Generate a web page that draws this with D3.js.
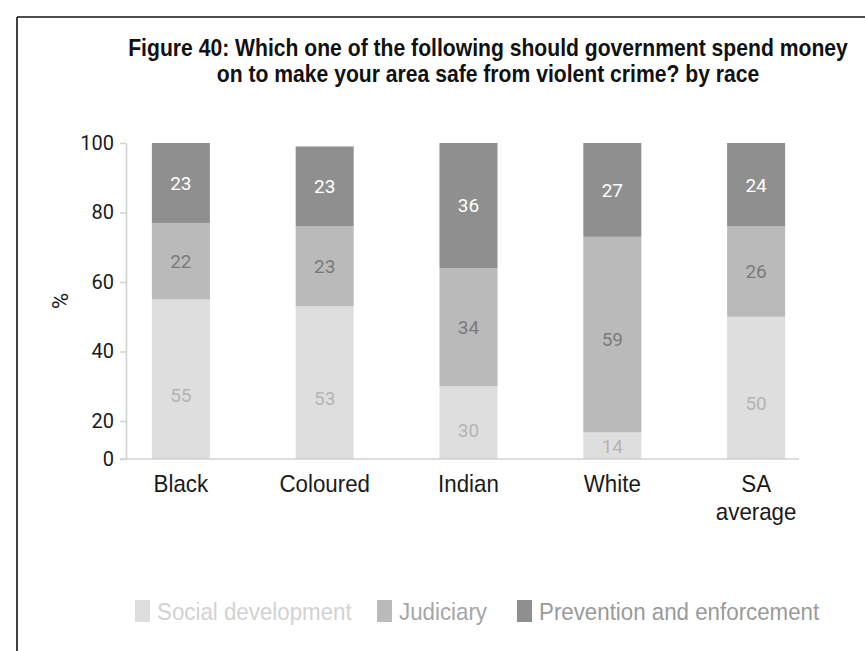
<!DOCTYPE html>
<html>
<head>
<meta charset="utf-8">
<script src="https://cdn.jsdelivr.net/npm/d3@7"></script>
<style>
  html, body { margin: 0; padding: 0; background: #fff; }
  svg { display: block; }
</style>
</head>
<body>
<svg id="chart" width="865" height="651"></svg>
<script>
// Spending priorities for violent-crime safety, by population group (%)
const categories = ["Black", "Coloured", "Indian", "White", "SA average"];
const seriesNames = ["Social development", "Judiciary", "Prevention and enforcement"];
const socialDevelopment = [55, 53, 30, 14, 50];
const judiciary = [22, 23, 34, 59, 26];
const preventionEnforcement = [23, 23, 36, 27, 24];
const yTicks = [0, 20, 40, 60, 80, 100];
const titleLines = [
  "Figure 40: Which one of the following should government spend money",
  "on to make your area safe from violent crime? by race"
];

const fills = ["#dedede", "#bababa", "#8f8f8f"];
const labelColors = ["#b4b4b4", "#7a7a7a", "#ffffff"];
const legendTextColors = ["#d2d2d2", "#a6a6a6", "#9a9a9a"];

const narrow = "'Liberation Sans', Arial, sans-serif";
const plain = "Roboto, 'Open Sans', 'DejaVu Sans', sans-serif";
const squeeze = 0.93; // horizontal compression giving a condensed face

const svg = d3.select("#chart");

// frame (top and left rules)
svg.append("line").attr("x1", 17).attr("y1", 17).attr("x2", 865).attr("y2", 17)
  .attr("stroke", "#111").attr("stroke-width", 1.6);
svg.append("line").attr("x1", 17).attr("y1", 17).attr("x2", 17).attr("y2", 651)
  .attr("stroke", "#111").attr("stroke-width", 1.6);

// title, set in a condensed bold: both lines share one compression factor
const titleWidth = 720;
const titleGroups = svg.append("g").selectAll("g").data(titleLines).join("g");
const titleTexts = titleGroups.append("text")
  .attr("dy", "0.36em")
  .attr("text-anchor", "middle")
  .attr("font-family", narrow).attr("font-weight", "bold").attr("font-size", 23)
  .attr("fill", "#111")
  .text(d => d);
const titleScale = titleWidth / titleTexts.nodes()[0].getComputedTextLength();
titleGroups.attr("transform", (d, i) => `translate(488,${48 + i * 26}) scale(${titleScale},1)`);

const rows = categories.map((c, i) => ({
  category: c,
  "Social development": socialDevelopment[i],
  "Judiciary": judiciary[i],
  "Prevention and enforcement": preventionEnforcement[i]
}));
const stacked = d3.stack().keys(seriesNames)(rows);

const x = d3.scaleBand().domain(categories).range([109, 828])
  .paddingInner(0.5965).paddingOuter(0.298);
// the lowest interval of the value axis is drawn shorter than the others
const y = d3.scaleLinear().domain([0, 20, 100]).range([459, 421, 143]);

// bars
const layers = svg.append("g").selectAll("g").data(stacked).join("g")
  .attr("fill", (d, i) => fills[i]);
layers.selectAll("rect").data(d => d).join("rect")
  .attr("x", d => x(d.data.category))
  .attr("width", x.bandwidth())
  .attr("y", d => y(d[1]))
  .attr("height", d => y(d[0]) - y(d[1]));

// value labels, centred on each segment's value range
const labelLayers = svg.append("g").selectAll("g").data(stacked).join("g")
  .attr("fill", (d, i) => labelColors[i]);
labelLayers.selectAll("text").data(d => d).join("text")
  .attr("x", d => x(d.data.category) + x.bandwidth() / 2)
  .attr("y", d => y((d[0] + d[1]) / 2))
  .attr("dy", "0.36em")
  .attr("text-anchor", "middle")
  .attr("font-family", plain).attr("font-size", 19)
  .text(d => d[1] - d[0]);

// y axis
const yAxis = svg.append("g").attr("transform", "translate(126,0)")
  .call(d3.axisLeft(y).tickValues(yTicks).tickSize(6).tickPadding(6).tickSizeOuter(0));
yAxis.select(".domain").attr("stroke", "#d0d0d0").attr("stroke-width", 1.5);
yAxis.selectAll(".tick line").attr("stroke", "#d0d0d0").attr("stroke-width", 1.5);
yAxis.selectAll(".tick text").attr("font-family", plain).attr("font-size", 20).attr("fill", "#1a1a1a");

svg.append("text")
  .attr("transform", "translate(60,301) rotate(-90)")
  .attr("dy", "0.36em")
  .attr("text-anchor", "middle")
  .attr("font-family", plain).attr("font-size", 22).attr("fill", "#1a1a1a")
  .text("%");

// x axis baseline and category labels
svg.append("line").attr("x1", 120).attr("x2", 799).attr("y1", y(0)).attr("y2", y(0))
  .attr("stroke", "#d0d0d0").attr("stroke-width", 1.5);
const xLabelGroups = svg.append("g").selectAll("g").data(categories).join("g")
  .attr("transform", d => `translate(${x(d) + x.bandwidth() / 2},${y(0) + 24}) scale(${squeeze},1)`);
xLabelGroups.each(function(d) {
  const words = d === "SA average" ? ["SA", "average"] : [d];
  d3.select(this).selectAll("text").data(words).join("text")
    .attr("y", (w, i) => i * 28)
    .attr("dy", "0.36em")
    .attr("text-anchor", "middle")
    .attr("font-family", narrow).attr("font-size", 24).attr("fill", "#1a1a1a")
    .text(w => w);
});

// legend
const legendX = [135, 377, 517];
const legend = svg.append("g").selectAll("g").data(seriesNames).join("g")
  .attr("transform", (d, i) => `translate(${legendX[i]},600)`);
legend.append("rect").attr("width", 15).attr("height", 22)
  .attr("fill", (d, i) => fills[i]);
legend.append("text")
  .attr("transform", `translate(22,11) scale(${squeeze},1)`)
  .attr("dy", "0.36em")
  .attr("font-family", narrow).attr("font-size", 24)
  .attr("fill", (d, i) => legendTextColors[i])
  .text(d => d);
</script>
</body>
</html>
